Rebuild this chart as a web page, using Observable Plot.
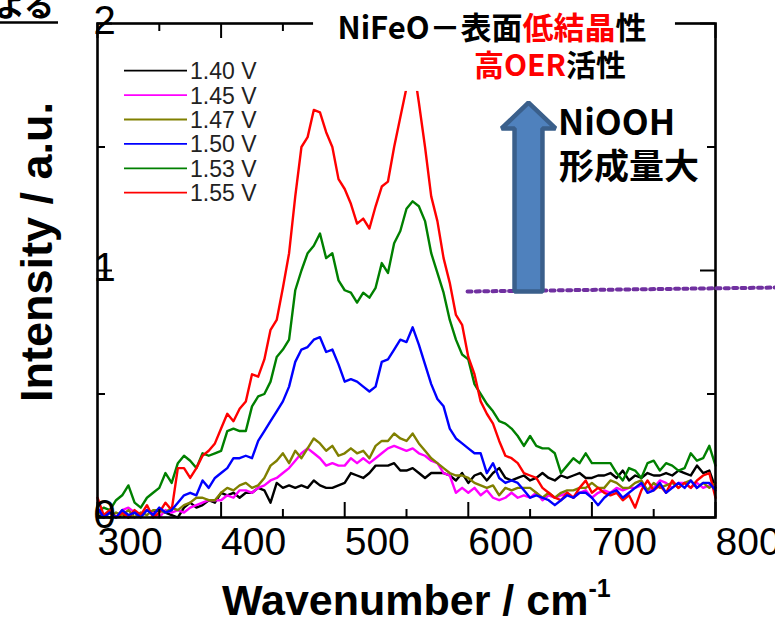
<!DOCTYPE html>
<html><head><meta charset="utf-8">
<script src="https://cdn.jsdelivr.net/npm/d3@7"></script>
<script src="https://cdn.jsdelivr.net/npm/@observablehq/plot@0.6"></script>
<style>
html,body{margin:0;padding:0;background:#fff;}
#chart{position:relative;width:775px;height:620px;overflow:hidden;}
</style></head><body><div id="chart"></div>
<script>
// ---- data ----
const wavenumbers = [300,305,310,315,320,325,330,335,340,345,350,355,360,365,370,375,380,385,390,395,
  400,405,410,415,420,425,430,435,440,445,450,455,460,465,470,475,480,485,490,495,
  500,505,510,515,520,525,530,535,540,545,550,555,560,565,570,575,580,585,590,595,
  600,605,610,615,620,625,630,635,640,645,650,655,660,665,670,675,680,685,690,695,
  700,705,710,715,720,725,730,735,740,745,750,755,760,765,770,775,780,785,790,795,800];

const seriesLabels = ["1.40 V","1.45 V","1.47 V","1.50 V","1.53 V","1.55 V"];
const seriesColors = ["#000000","#ff00ff","#808000","#0000ff","#008000","#ff0000"];

const v140 = [0.01,0.00,0.02,0.00,0.01,0.00,0.02,0.01,0.03,0.02,
  0.03,0.02,0.01,0.00,0.04,0.06,0.04,0.05,0.07,0.06,
  0.10,0.09,0.10,0.08,0.10,0.10,0.12,0.11,0.06,0.14,
  0.12,0.13,0.12,0.13,0.12,0.15,0.13,0.12,0.12,0.13,
  0.14,0.18,0.17,0.16,0.18,0.21,0.21,0.21,0.22,0.19,
  0.19,0.20,0.18,0.16,0.18,0.18,0.18,0.17,0.15,0.18,
  0.14,0.17,0.18,0.15,0.18,0.20,0.16,0.15,0.16,0.17,
  0.15,0.16,0.18,0.16,0.15,0.17,0.16,0.17,0.18,0.16,
  0.16,0.17,0.17,0.18,0.16,0.19,0.15,0.17,0.16,0.18,
  0.17,0.17,0.18,0.17,0.19,0.18,0.17,0.21,0.18,0.19,0.12];
const v145 = [0.03,0.01,0.02,0.00,0.03,0.04,0.02,0.01,0.03,0.02,
  0.00,0.03,0.02,0.03,0.02,0.04,0.05,0.06,0.07,0.07,
  0.07,0.09,0.08,0.11,0.11,0.10,0.12,0.13,0.15,0.16,
  0.18,0.20,0.23,0.26,0.28,0.26,0.24,0.21,0.22,0.21,
  0.21,0.24,0.22,0.24,0.22,0.24,0.26,0.28,0.29,0.28,
  0.27,0.28,0.26,0.25,0.23,0.22,0.18,0.17,0.10,0.12,
  0.10,0.12,0.09,0.11,0.08,0.07,0.08,0.10,0.08,0.09,
  0.08,0.10,0.07,0.09,0.08,0.09,0.10,0.08,0.10,0.11,
  0.08,0.10,0.11,0.10,0.12,0.11,0.12,0.12,0.13,0.11,
  0.12,0.15,0.14,0.12,0.14,0.14,0.12,0.14,0.12,0.13,0.13];
const v147 = [0.02,0.01,0.00,0.02,0.01,0.03,0.00,0.02,0.01,0.03,
  0.03,0.02,0.04,0.03,0.05,0.06,0.08,0.08,0.07,0.07,
  0.10,0.12,0.11,0.13,0.14,0.12,0.13,0.16,0.21,0.23,
  0.26,0.22,0.27,0.24,0.28,0.32,0.30,0.27,0.29,0.25,
  0.26,0.28,0.26,0.27,0.24,0.29,0.31,0.31,0.34,0.32,
  0.31,0.34,0.30,0.27,0.24,0.22,0.20,0.18,0.17,0.17,
  0.16,0.14,0.13,0.12,0.13,0.09,0.12,0.11,0.12,0.12,
  0.12,0.10,0.08,0.10,0.08,0.10,0.11,0.11,0.12,0.12,
  0.14,0.12,0.12,0.15,0.14,0.12,0.12,0.14,0.15,0.11,
  0.14,0.12,0.13,0.14,0.12,0.14,0.15,0.12,0.14,0.12,0.14];
const v150 = [0.04,0.00,0.02,0.00,0.03,0.01,0.02,0.00,0.03,0.01,
  0.04,0.02,0.03,0.06,0.09,0.10,0.09,0.15,0.12,0.16,
  0.18,0.20,0.24,0.24,0.25,0.24,0.31,0.35,0.39,0.43,
  0.47,0.53,0.63,0.68,0.69,0.72,0.73,0.67,0.68,0.62,
  0.55,0.56,0.55,0.53,0.51,0.53,0.63,0.64,0.68,0.72,
  0.71,0.77,0.70,0.62,0.54,0.48,0.45,0.36,0.32,0.30,
  0.28,0.26,0.26,0.18,0.22,0.16,0.14,0.15,0.14,0.11,
  0.08,0.09,0.08,0.07,0.05,0.07,0.09,0.08,0.10,0.10,
  0.08,0.05,0.08,0.10,0.11,0.08,0.10,0.12,0.14,0.10,
  0.11,0.14,0.10,0.12,0.14,0.12,0.15,0.12,0.14,0.14,0.11];
const v153 = [0.02,0.04,0.03,0.07,0.09,0.13,0.06,0.04,0.08,0.10,
  0.12,0.18,0.14,0.22,0.25,0.23,0.20,0.26,0.25,0.26,
  0.27,0.35,0.36,0.35,0.35,0.45,0.49,0.50,0.55,0.65,
  0.68,0.72,0.92,1.00,1.07,1.10,1.15,1.05,1.07,0.96,
  0.92,0.91,0.87,0.91,0.89,0.93,1.03,0.99,1.11,1.16,
  1.25,1.28,1.26,1.20,1.07,0.99,0.91,0.80,0.72,0.66,
  0.64,0.54,0.50,0.46,0.43,0.39,0.38,0.36,0.33,0.29,
  0.33,0.29,0.28,0.28,0.26,0.18,0.21,0.24,0.22,0.26,
  0.22,0.22,0.22,0.22,0.18,0.15,0.20,0.19,0.16,0.22,
  0.23,0.19,0.22,0.21,0.19,0.20,0.26,0.23,0.24,0.29,0.21];
const v155 = [0.08,0.01,0.03,0.00,0.02,0.00,0.03,0.01,0.05,0.00,
  0.02,0.06,0.03,0.20,0.20,0.16,0.20,0.25,0.27,0.30,
  0.36,0.42,0.39,0.44,0.47,0.58,0.57,0.64,0.76,0.80,
  0.93,1.07,1.30,1.50,1.54,1.65,1.64,1.56,1.50,1.37,
  1.33,1.27,1.19,1.21,1.17,1.26,1.34,1.36,1.50,1.62,
  1.74,1.85,1.68,1.50,1.30,1.20,1.05,0.95,0.82,0.78,
  0.65,0.58,0.47,0.42,0.38,0.31,0.25,0.24,0.22,0.18,
  0.17,0.16,0.12,0.10,0.08,0.07,0.10,0.08,0.12,0.15,
  0.10,0.12,0.10,0.09,0.10,0.07,0.09,0.04,0.11,0.15,
  0.11,0.13,0.10,0.15,0.12,0.14,0.12,0.15,0.17,0.18,0.08];
const seriesValues = [v140, v145, v147, v150, v153, v155];
const drawOrder = [0, 1, 2, 4, 5, 3];

const xTickLabels = [300, 400, 500, 600, 700, 800];
const xMinorTicks = [350, 450, 550, 650, 750];
const yTickLabels = [0, 1, 2];
const yMinorTicks = [0.5, 1.5];

// annotation geometry in data units
const headerBox = [{x1: 474.8, x2: 767.6, y1: 1.725, y2: 2.2}];
const thresholdLine = [{x: 599.4, y: 0.915}, {x: 849, y: 0.931}];
const arrowShape = [
  {x: 648.7, y: 1.680}, {x: 670.6, y: 1.575}, {x: 660.0, y: 1.575},
  {x: 660.0, y: 0.915}, {x: 637.4, y: 0.915}, {x: 637.4, y: 1.575},
  {x: 626.9, y: 1.575}
];
const headerLine1 = [["NiFeO－表面", "#000"], ["低結晶", "#ff0000"], ["性", "#000"]];
const headerLine2 = [["高OER", "#ff0000"], ["活性", "#000"]];
const noteLines = ["NiOOH", "形成量大"];
const yTitle = "Intensity / a.u.";
const xTitle = "Wavenumber / cm";
const xTitleSup = "-1";
const cornerText = "よる";

// ---- build ----
const spectra = drawOrder.flatMap(i => wavenumbers.map((w, j) => ({series: seriesLabels[i], wavenumber: w, intensity: seriesValues[i][j]})));

const W = 775, H = 620, mL = 97, mR = 60, mT = 23, mB = 103;
const innerW = W - mL - mR, innerH = H - mT - mB;
const latin = "'Liberation Sans', Arial, sans-serif";
const cjk = "'Noto Sans CJK JP', sans-serif";

const plot = Plot.plot({
  width: W, height: H,
  marginLeft: mL, marginRight: mR, marginTop: mT, marginBottom: mB,
  style: {fontFamily: latin, background: "white", color: "black"},
  x: {domain: [300, 800]},
  y: {domain: [0, 2]},
  color: {domain: seriesLabels, range: seriesColors},
  marks: [
    Plot.line(spectra, {x: "wavenumber", y: "intensity", z: "series", stroke: "series", strokeWidth: 2.4}),
    Plot.frame({stroke: "black", strokeWidth: 2.6}),
    Plot.tickX(xTickLabels, {x: d => d, insetTop: innerH - 15, stroke: "black", strokeWidth: 2}),
    Plot.tickX(xMinorTicks, {x: d => d, insetTop: innerH - 8, stroke: "black", strokeWidth: 2}),
    Plot.tickX(xTickLabels, {x: d => d, insetBottom: innerH - 15, stroke: "black", strokeWidth: 2}),
    Plot.tickX(xMinorTicks, {x: d => d, insetBottom: innerH - 8, stroke: "black", strokeWidth: 2}),
    Plot.tickY(yTickLabels, {y: d => d, insetRight: innerW - 15, stroke: "black", strokeWidth: 2}),
    Plot.tickY(yMinorTicks, {y: d => d, insetRight: innerW - 8, stroke: "black", strokeWidth: 2}),
    Plot.tickY(yTickLabels, {y: d => d, insetLeft: innerW - 15, stroke: "black", strokeWidth: 2}),
    Plot.tickY(yMinorTicks, {y: d => d, insetLeft: innerW - 8, stroke: "black", strokeWidth: 2}),
    Plot.rect(headerBox, {x1: "x1", x2: "x2", y1: "y1", y2: "y2", fill: "white"}),
    Plot.line(thresholdLine, {x: "x", y: "y", stroke: "#7030a0", strokeWidth: 4, strokeDasharray: "4 4.3"}),
    Plot.line(arrowShape, {x: "x", y: "y", curve: "linear-closed", fill: "#4f81bd", stroke: "#3a5f8b", strokeWidth: 4.5, strokeLinejoin: "miter"}),
    Plot.axisX({ticks: xTickLabels, tickSize: 0, tickPadding: 10, textAnchor: "start", fontSize: 39, label: null, tickFormat: d => String(d)}),
    Plot.axisY({ticks: yTickLabels, tickSize: 0, tickPadding: 4, textAnchor: "start", fontSize: 40, label: null, dy: -2, tickFormat: d => String(d)})
  ]
});
document.getElementById("chart").appendChild(plot);

const svg = d3.select(plot);

// legend
const lg = svg.append("g").attr("text-anchor", "start");
seriesLabels.forEach((lab, i) => {
  const yy = 70.7 + 24.4 * i;
  lg.append("line").attr("x1", 124).attr("x2", 187).attr("y1", yy).attr("y2", yy)
    .attr("stroke", seriesColors[i]).attr("stroke-width", 1.8);
  lg.append("text").attr("x", 190).attr("y", yy + 8.5).attr("font-family", latin)
    .attr("text-anchor", "start").attr("font-size", 23).attr("fill", "#222").text(lab);
});

// header annotation
const ann = svg.append("g").attr("font-family", cjk).attr("font-weight", 700);
const t1 = ann.append("text").attr("x", 492).attr("y", 39).attr("text-anchor", "middle").attr("font-size", 31);
headerLine1.forEach(([s, c]) => t1.append("tspan").attr("fill", c).text(s));
const t2 = ann.append("text").attr("x", 550).attr("y", 76).attr("text-anchor", "middle").attr("font-size", 30);
headerLine2.forEach(([s, c]) => t2.append("tspan").attr("fill", c).text(s));
ann.append("text").attr("x", 558).attr("y", 135).attr("text-anchor", "start").attr("font-size", 35).attr("fill", "#000").text(noteLines[0]);
ann.append("text").attr("x", 559).attr("y", 179).attr("text-anchor", "start").attr("font-size", 35).attr("fill", "#000").text(noteLines[1]);

// axis titles
svg.append("text").attr("transform", "translate(52,252) rotate(-90)").attr("text-anchor", "middle")
  .attr("font-family", latin).attr("font-weight", 700).attr("font-size", 45).attr("fill", "#000").text(yTitle);
const xt = svg.append("text").attr("x", 222).attr("y", 615).attr("text-anchor", "start").attr("font-family", latin)
  .attr("font-weight", 700).attr("font-size", 43).attr("fill", "#000");
xt.append("tspan").text(xTitle);
xt.append("tspan").attr("font-size", 25).attr("dy", -18).text(xTitleSup);

// cropped heading fragment at top-left
svg.append("text").attr("x", -5).attr("y", 16).attr("text-anchor", "start").attr("font-family", cjk).attr("font-weight", 700)
  .attr("font-size", 30).attr("fill", "#000").text(cornerText);
svg.append("line").attr("x1", 0).attr("x2", 58).attr("y1", 22.5).attr("y2", 22.5)
  .attr("stroke", "#000").attr("stroke-width", 2.5);
</script>
</body></html>
